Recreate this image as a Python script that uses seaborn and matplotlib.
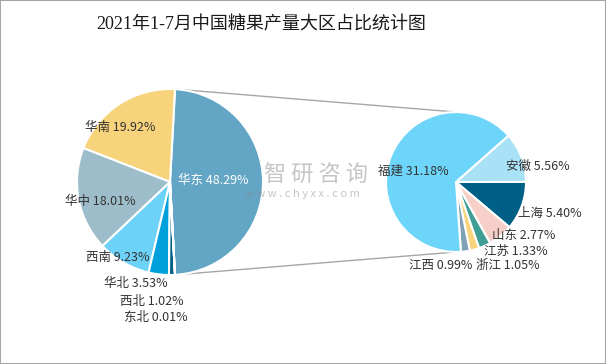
import numpy as np
import matplotlib
matplotlib.use("Agg")
import matplotlib.pyplot as plt
import seaborn as sns
from matplotlib.patches import Rectangle

# data
regions = ["华东", "华南", "华中", "西南", "华北", "西北", "东北"]
region_share = [48.29, 19.92, 18.01, 9.23, 3.53, 1.02, 0.01]
provinces = ["安徽", "上海", "山东", "江苏", "浙江", "江西", "福建"]
province_share = [5.56, 5.40, 2.77, 1.33, 1.05, 0.99, 31.18]

title = "2021年1-7月中国糖果产量大区占比统计图"

# styles
region_colors = ["#62A5C5", "#F7D37B", "#9DBDCB", "#6DD2F7", "#00A0DC", "#005F86", "#3F9E95"]
province_colors = ["#A9E1F7", "#005F86", "#F6CFC9", "#3F9E95", "#F7D37B", "#7FA3B5", "#6DD5FA"]
left_c, left_r = (170, 182), 93
right_c, right_r = (456, 182), 70
right_start = 41.5
# label offsets (px) from pie centre, y up
region_lab = [(43, 2), (-50, 55), (-70, -19), (-52, -75), (-34, -101), (-18, -119), (-14, -135)]
province_lab = [(82, 16), (94, -31), (68, -53), (60, -69), (52, -83), (-15, -83), (-43, 11)]

sns.set_theme(style="white")
plt.rcParams["font.family"] = ["Noto Sans CJK SC", "DejaVu Sans"]

fig = plt.figure(figsize=(6.06, 3.64), dpi=100)
ax = fig.add_axes([0, 0, 1, 1])

wp = dict(edgecolor="white", linewidth=1.5)
left_start = -region_share[0] / sum(region_share) * 180
lw, _ = ax.pie(region_share, colors=region_colors, center=left_c, radius=left_r,
               startangle=left_start, counterclock=True, wedgeprops=wp)
rw, _ = ax.pie(province_share, colors=province_colors, center=right_c, radius=right_r,
               startangle=right_start, counterclock=False, wedgeprops=wp)

# connector lines from the 华东 slice to the secondary pie
for ang, sign in [(lw[0].theta2, 1), (lw[0].theta1, -1)]:
    x0 = left_c[0] + left_r * np.cos(np.radians(ang))
    y0 = left_c[1] + left_r * np.sin(np.radians(ang))
    ax.plot([x0, right_c[0]], [y0, right_c[1] + sign * right_r],
            color="#A6A6A6", lw=1, zorder=0)

for name, v, (dx, dy) in zip(regions, region_share, region_lab):
    col = "white" if name == "华东" else "#333333"
    ax.text(left_c[0] + dx, left_c[1] + dy, f"{name} {v:.2f}%", fontsize=9,
            fontweight="medium", color=col, ha="center", va="center")
for name, v, (dx, dy) in zip(provinces, province_share, province_lab):
    ax.text(right_c[0] + dx, right_c[1] + dy, f"{name} {v:.2f}%", fontsize=9,
            fontweight="medium", color="#333333", ha="center", va="center")

# watermark
ax.text(316, 364 - 175, "智 研 咨 询", fontsize=16, color="#8C8C8C", alpha=0.5,
        ha="center", va="center")
ax.text(302, 364 - 194, "w w w . c h y x x . c o m", fontsize=8, color="#8C8C8C",
        alpha=0.5, ha="center", va="center")

ax.set_xlim(0, 606)
ax.set_ylim(0, 364)
ax.set_aspect("equal")
ax.axis("off")

fig.text(261 / 606, 1 - 25 / 364, title, fontsize=13, fontweight="medium",
         family=["Liberation Serif", "Noto Sans CJK SC"],
         color="#1a1a1a", ha="center", va="center")
fig.patches.append(Rectangle((0, 0), 1, 1, transform=fig.transFigure, fill=False,
                             edgecolor="#A6A6A6", linewidth=1.5))

fig.savefig("out.png", dpi=100)
